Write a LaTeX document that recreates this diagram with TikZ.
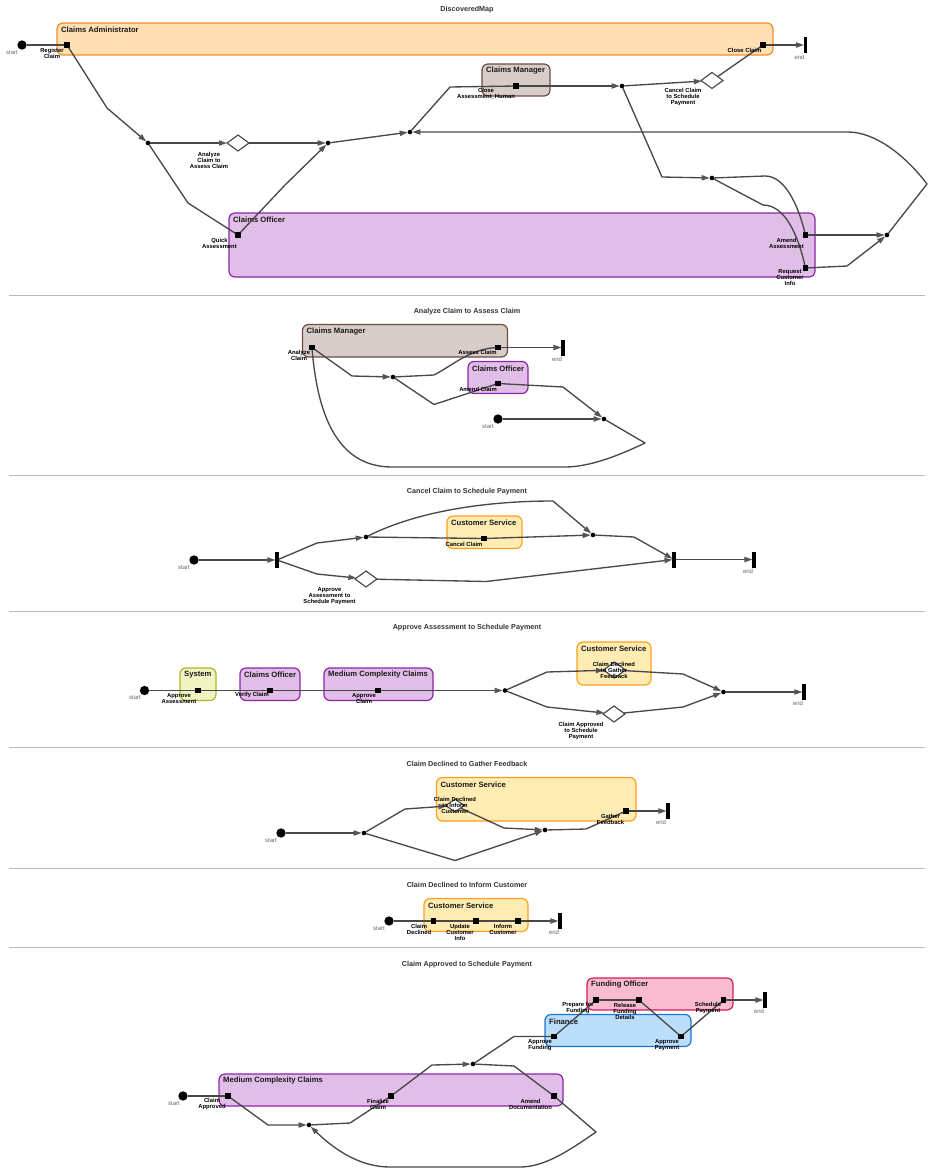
\documentclass[tikz,border=0pt]{standalone}
\usepackage{fontspec}
\setmainfont{Liberation Sans}
\usetikzlibrary{arrows.meta,shapes.geometric}
\definecolor{edgec}{HTML}{484848}
\definecolor{tipc}{HTML}{555555}
\tikzset{
  every node/.style={outer sep=0pt},
  lanebase/.style={draw,rounded corners=4.5pt,line width=0.9pt,inner sep=0pt},
  orangeA/.style={lanebase,fill={rgb,255:red,255;green,224;blue,178},draw={rgb,255:red,245;green,140;blue,40}},
  orangeB/.style={lanebase,fill={rgb,255:red,255;green,236;blue,179},draw={rgb,255:red,255;green,160;blue,30}},
  brownL/.style={lanebase,fill={rgb,255:red,215;green,204;blue,200},draw={rgb,255:red,109;green,76;blue,65}},
  purpleL/.style={lanebase,fill={rgb,255:red,225;green,190;blue,231},draw={rgb,255:red,142;green,36;blue,170}},
  limeL/.style={lanebase,fill={rgb,255:red,240;green,244;blue,195},draw={rgb,255:red,175;green,180;blue,43}},
  pinkL/.style={lanebase,fill={rgb,255:red,248;green,187;blue,208},draw={rgb,255:red,216;green,27;blue,96}},
  blueL/.style={lanebase,fill={rgb,255:red,187;green,222;blue,251},draw={rgb,255:red,25;green,118;blue,210}},
  lanetitle/.style={anchor=west,inner sep=0pt,font=\fontsize{5.75}{7}\selectfont\bfseries,text=black!90},
  maptitle/.style={inner sep=0pt,font=\fontsize{5.4}{6}\selectfont\bfseries,text=black!80},
  act/.style={fill=black,draw=none,rectangle,minimum size=4pt,inner sep=0pt},
  junc/.style={fill=black,draw=none,circle,minimum size=3.5pt,inner sep=0pt},
  startn/.style={fill=black,draw=none,circle,minimum size=7pt,inner sep=0pt},
  endbar/.style={fill=black,draw=none,rectangle,minimum width=2.3pt,minimum height=12pt,inner sep=0pt},
  gate/.style={diamond,draw=edgec,fill=white,line width=0.85pt,aspect=1.4,minimum width=16.5pt,minimum height=12pt,inner sep=0pt},
  smallgate/.style={gate,minimum width=14pt,minimum height=9.5pt},
  lbl/.style={inner sep=0pt,align=center,font=\fontsize{4.4}{4.5}\selectfont\bfseries,text=black},
  termlbl/.style={inner sep=0pt,font=\fontsize{4.5}{5}\selectfont,text=black!60},
  edge/.style={draw=edgec,line width=1pt,line join=round},
  arr/.style={edge,-{Triangle[length=6pt,width=3.9pt,color=tipc]}},
  sep/.style={draw=black!28,line width=0.75pt},
}
\newcommand{\lane}[7]{%
  \pgfmathsetmacro{\lw}{(#4-#2)*0.75}\pgfmathsetmacro{\lh}{(#5-#3)*0.75}%
  \node[#6,minimum width=\lw pt,minimum height=\lh pt] (#1) at ({(#2+#4)/2},{(#3+#5)/2}) {};
  \node[lanetitle] (#1T) at (#2+4.2,#3+7) {#7};}
\begin{document}
\begin{tikzpicture}[x=0.75pt,y=-0.75pt]
\useasboundingbox (0,0) rectangle (934,1175);
% separators
\coordinate (sl1) at (9,295);\coordinate (sr1) at (925,295);
\coordinate (sl2) at (9,475);\coordinate (sr2) at (925,475);
\coordinate (sl3) at (9,611.5);\coordinate (sr3) at (925,611.5);
\coordinate (sl4) at (9,747.5);\coordinate (sr4) at (925,747.5);
\coordinate (sl5) at (9,868.5);\coordinate (sr5) at (925,868.5);
\coordinate (sl6) at (9,947.5);\coordinate (sr6) at (925,947.5);
\foreach \i in {1,...,6} \draw[sep] (sl\i) -- (sr\i);
% titles
\node[maptitle] (t1) at (467,9.5) {DiscoveredMap};
\node[maptitle] (t2) at (467,311.5) {Analyze Claim to Assess Claim};
\node[maptitle] (t3) at (467,491.5) {Cancel Claim to Schedule Payment};
\node[maptitle] (t4) at (467,628) {Approve Assessment to Schedule Payment};
\node[maptitle] (t5) at (467,764) {Claim Declined to Gather Feedback};
\node[maptitle] (t6) at (467,885) {Claim Declined to Inform Customer};
\node[maptitle] (t7) at (467,964.5) {Claim Approved to Schedule Payment};
% lanes
\lane{aL1}{57}{23}{773}{55}{orangeA}{Claims Administrator}
\lane{aL2}{482}{64}{550}{96}{brownL}{Claims Manager}
\lane{aL3}{229}{213}{815}{277}{purpleL}{Claims Officer}
\lane{bL1}{302.5}{324.5}{507.5}{357}{brownL}{Claims Manager}
\lane{bL2}{468}{361.5}{528}{393.5}{purpleL}{Claims Officer}
\lane{cL1}{447}{516}{522}{548.5}{orangeB}{Customer Service}
\lane{dL1}{180}{668}{216}{700.5}{limeL}{System}
\lane{dL2}{240}{668}{300}{700.5}{purpleL}{Claims Officer}
\lane{dL3}{324}{668}{433}{700.5}{purpleL}{Medium Complexity Claims}
\lane{dL4}{577}{642}{651}{685}{orangeB}{Customer Service}
\lane{eL1}{436.5}{777.5}{636}{821}{orangeB}{Customer Service}
\lane{fL1}{424}{898.5}{528}{931.5}{orangeB}{Customer Service}
\lane{gL1}{587}{978}{733}{1010}{pinkL}{Funding Officer}
\lane{gL2}{545}{1014.5}{691}{1046.5}{blueL}{Finance}
\lane{gL3}{219}{1074}{563}{1106}{purpleL}{Medium Complexity Claims}
% ===== section a nodes
\node[startn] (aS) at (22,45) {};
\node[act] (aReg) at (67,45) {};
\node[junc] (aJ1) at (148,143) {};
\node[gate] (aD1) at (238,143) {};
\node[junc] (aJ2) at (328,143) {};
\node[junc] (aJ3) at (410,132) {};
\node[act] (aQuick) at (238,235) {};
\node[act] (aCloseH) at (516,86) {};
\node[junc] (aJ4) at (622,86) {};
\node[gate] (aD2) at (712,80.5) {};
\node[act] (aClose) at (763,45) {};
\node[endbar] (aE) at (805.5,45) {};
\node[junc] (aJ5) at (712,178) {};
\node[act] (aAmend) at (805.5,235) {};
\node[act] (aReq) at (805.5,268) {};
\node[junc] (aJ6) at (887,235) {};
% section a edges
\draw[edge] (aS) -- (aReg);
\draw[arr] (aReg) -- (107,108) -- (aJ1);
\draw[arr] (aJ1) -- (aD1);
\draw[arr] (aD1) -- (aJ2);
\draw[edge] (aJ1) -- (188,203) -- (aQuick);
\draw[arr] (aQuick) -- (285,185) -- (aJ2);
\draw[arr] (aJ2) -- (aJ3);
\draw[edge] (aJ3) -- (450,87) -- (aCloseH);
\draw[arr] (aCloseH) -- (aJ4);
\draw[arr] (aJ4) -- (aD2);
\draw[edge] (aD2) -- (aClose);
\draw[arr] (aClose) -- (aE);
\draw[arr] (aJ4) -- (662,177) -- (aJ5);
\draw[edge] (aJ5) -- (765,176) .. controls (785,176) and (798,205) .. (aAmend);
\draw[edge] (aJ5) -- (763,205) .. controls (785,205) and (798,235) .. (aReq);
\draw[arr] (aAmend) -- (aJ6);
\draw[arr] (aReq) -- (847,266) -- (aJ6);
\draw[arr] (aJ6) -- (927,184) .. controls (905,155) and (875,132) .. (848,132) -- (aJ3);
% section a labels
\node[termlbl] (aSL) at (12,53) {start};
\node[lbl] (aRegL) at (52,53) {Register\\Claim};
\node[lbl] (aD1L) at (209,160) {Analyze\\Claim to\\Assess Claim};
\node[lbl] (aQuickL) at (219.5,243) {Quick\\Assessment};
\node[lbl] (aCloseHL) at (486,94) {Close\\Assessment\_Human};
\node[lbl] (aD2L) at (683,97) {Cancel Claim\\to Schedule\\Payment};
\node[lbl] (aCloseL) at (744.5,50) {Close Claim};
\node[termlbl] (aEL) at (799.5,57) {end};
\node[lbl] (aAmendL) at (786.5,243) {Amend\\Assessment};
\node[lbl] (aReqL) at (790,278) {Request\\Customer\\Info};
% ===== section b nodes
\node[act] (bAn) at (312,347.5) {};
\node[act] (bAs) at (498,347.5) {};
\node[endbar] (bE) at (563,347.5) {};
\node[act] (bAm) at (498,383.5) {};
\node[startn] (bS) at (498,419) {};
\node[junc] (bJ1) at (393,377) {};
\node[junc] (bJ2) at (604,419) {};
% section b edges
\draw[arr] (bAn) -- (352,376) -- (bJ1);
\draw[edge] (bJ1) -- (434,375) .. controls (450,367) and (470,349) .. (bAs);
\draw[edge] (bJ1) -- (434,404.5) -- (bAm);
\draw[arr] (bAm) -- (563,387) -- (bJ2);
\draw[arr] (bS) -- (bJ2);
\draw[arr] (bAs) -- (bE);
\draw[edge] (bJ2) -- (645,443) .. controls (620,455) and (590,467) .. (565,467) -- (392,467) .. controls (340,467) and (318,420) .. (bAn);
% section b labels
\node[lbl] (bAnL) at (299,355) {Analyze\\Claim};
\node[lbl] (bAsL) at (477.5,352) {Assess Claim};
\node[termlbl] (bEL) at (557,359) {end};
\node[lbl] (bAmL) at (478,389) {Amend Claim};
\node[termlbl] (bSL) at (488,427) {start};
% ===== section c nodes
\node[startn] (cS) at (194,560) {};
\node[endbar] (cF1) at (277,560) {};
\node[junc] (cJ1) at (366,537) {};
\node[junc] (cJ2) at (593,535) {};
\node[act] (cCan) at (484,538.5) {};
\node[gate] (cD) at (366,579) {};
\node[endbar] (cF2) at (674,559.5) {};
\node[endbar] (cE) at (754,559.5) {};
% section c edges
\draw[arr] (cS) -- (cF1);
\draw[arr] (cF1) -- (317,543) -- (cJ1);
\draw[arr] (cF1) -- (317,574) -- (cD);
\draw[arr] (cD) -- (486,581.5) -- (cF2);
\draw[arr] (cJ1) .. controls (420,510) and (490,501) .. (553,501) -- (cJ2);
\draw[edge] (cJ1) -- (cCan);
\draw[arr] (cCan) -- (cJ2);
\draw[arr] (cJ2) -- (634,537) -- (cF2);
\draw[arr] (cF2) -- (cE);
% section c labels
\node[termlbl] (cSL) at (184,568) {start};
\node[lbl] (cCanL) at (464,544) {Cancel Claim};
\node[lbl] (cDL) at (329.5,596) {Approve\\Assessment to\\Schedule Payment};
\node[termlbl] (cEL) at (748,571) {end};
% ===== section d nodes
\node[startn] (dS) at (144.5,690.5) {};
\node[act] (dAA) at (198,690.5) {};
\node[act] (dV) at (270,690.5) {};
\node[act] (dAC) at (378,690.5) {};
\node[junc] (dJ1) at (505,690.5) {};
\node[gate] (dD1) at (614.5,670) {};
\node[gate] (dD2) at (614,714) {};
\node[junc] (dJ2) at (723.5,692) {};
\node[endbar] (dE) at (804,692) {};
% section d edges
\draw[edge] (dS) -- (dAA);
\draw[edge] (dAA) -- (dV);
\draw[edge] (dV) -- (dAC);
\draw[arr] (dAC) -- (dJ1);
\draw[arr] (dJ1) -- (547,672) -- (dD1);
\draw[arr] (dD1) -- (683,674) -- (dJ2);
\draw[arr] (dJ1) -- (547,707) -- (dD2);
\draw[arr] (dD2) -- (683,707) -- (dJ2);
\draw[arr] (dJ2) -- (dE);
% section d labels
\node[termlbl] (dSL) at (135,698) {start};
\node[lbl] (dAAL) at (179,698.5) {Approve\\Assessment};
\node[lbl] (dVL) at (252,695) {Verify Claim};
\node[lbl] (dACL) at (364,698.5) {Approve\\Claim};
\node[lbl] (dD1L) at (614,670) {Claim Declined\\to Gather\\Feedback};
\node[lbl] (dD2L) at (581,731) {Claim Approved\\to Schedule\\Payment};
\node[termlbl] (dEL) at (798,703.5) {end};
% ===== section e nodes
\node[startn] (eS) at (281,833) {};
\node[junc] (eJ1) at (364,833) {};
\node[smallgate] (eD) at (455,805.5) {};
\node[junc] (eJ2) at (545,830) {};
\node[act] (eG) at (626,811) {};
\node[endbar] (eE) at (668,811) {};
% section e edges
\draw[arr] (eS) -- (eJ1);
\draw[arr] (eJ1) -- (405,809) -- (eD);
\draw[arr] (eD) -- (504,828) -- (eJ2);
\draw[arr] (eJ1) -- (455,860.5) -- (eJ2);
\draw[edge] (eJ2) -- (586,829) -- (eG);
\draw[arr] (eG) -- (eE);
% section e labels
\node[termlbl] (eSL) at (271,841) {start};
\node[lbl] (eDL) at (455,805.5) {Claim Declined\\to Inform\\Customer};
\node[lbl] (eGL) at (610.5,819) {Gather\\Feedback};
\node[termlbl] (eEL) at (661,822) {end};
% ===== section f nodes
\node[startn] (fS) at (389,921) {};
\node[act] (fC) at (433.5,921) {};
\node[act] (fU) at (476,921) {};
\node[act] (fI) at (518,921) {};
\node[endbar] (fE) at (560,921) {};
% section f edges
\draw[edge] (fS) -- (fC);
\draw[edge] (fC) -- (fU);
\draw[edge] (fU) -- (fI);
\draw[arr] (fI) -- (fE);
% section f labels
\node[termlbl] (fSL) at (379,929) {start};
\node[lbl] (fCL) at (419,929) {Claim\\Declined};
\node[lbl] (fUL) at (460,932) {Update\\Customer\\Info};
\node[lbl] (fIL) at (503,929) {Inform\\Customer};
\node[termlbl] (fEL) at (554,932) {end};
% ===== section g nodes
\node[startn] (gS) at (183,1096) {};
\node[act] (gCA) at (228,1096) {};
\node[junc] (gJ1) at (309,1125) {};
\node[act] (gFin) at (391,1096) {};
\node[junc] (gJ2) at (473,1064) {};
\node[act] (gAD) at (554,1096) {};
\node[act] (gAF) at (554,1036.5) {};
\node[act] (gPr) at (596,1000) {};
\node[act] (gRe) at (639,1000) {};
\node[act] (gAP) at (681,1036.5) {};
\node[act] (gSc) at (723.5,1000) {};
\node[endbar] (gE) at (765,1000) {};
% section g edges
\draw[edge] (gS) -- (gCA);
\draw[arr] (gCA) -- (268,1125) -- (gJ1);
\draw[edge] (gJ1) -- (350,1123) -- (gFin);
\draw[arr] (gFin) -- (432,1065) -- (gJ2);
\draw[edge] (gJ2) -- (514,1036.5) -- (gAF);
\draw[edge] (gAF) -- (gPr);
\draw[edge] (gPr) -- (gRe);
\draw[edge] (gRe) -- (gAP);
\draw[edge] (gAP) -- (gSc);
\draw[arr] (gSc) -- (gE);
\draw[edge] (gJ2) -- (514,1066) -- (gAD);
\draw[arr] (gAD) -- (596,1132) .. controls (570,1150) and (545,1167) .. (520,1167) -- (390,1167) .. controls (360,1167) and (335,1150) .. (gJ1);
% section g labels
\node[termlbl] (gSL) at (174,1104) {start};
\node[lbl] (gCAL) at (212,1104) {Claim\\Approved};
\node[lbl] (gFinL) at (378,1104) {Finalize\\Claim};
\node[lbl] (gADL) at (530.5,1104) {Amend\\Documentation};
\node[lbl] (gAFL) at (540,1045) {Approve\\Funding};
\node[lbl] (gPrL) at (578,1008) {Prepare for\\Funding};
\node[lbl] (gReL) at (625,1011) {Release\\Funding\\Details};
\node[lbl] (gAPL) at (667,1045) {Approve\\Payment};
\node[lbl] (gScL) at (708,1008) {Schedule\\Payment};
\node[termlbl] (gEL) at (759,1011) {end};
\end{tikzpicture}
\end{document}
